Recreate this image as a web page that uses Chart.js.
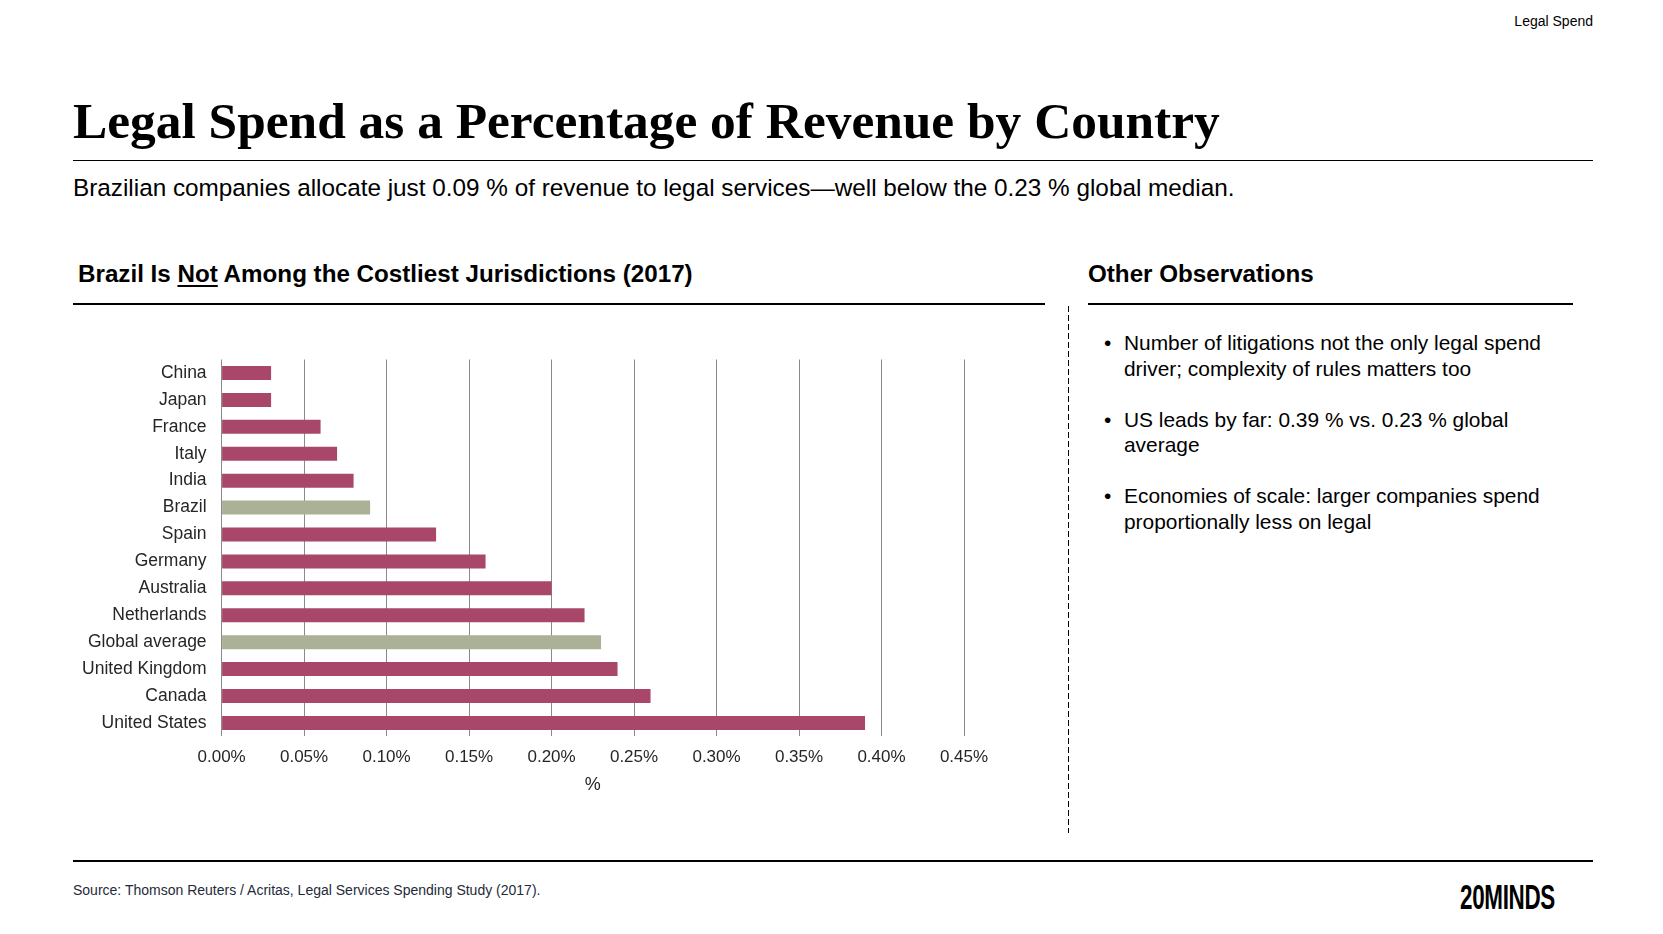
<!DOCTYPE html>
<html>
<head>
<meta charset="utf-8">
<script src="https://cdn.jsdelivr.net/npm/chart.js@4.4.1/dist/chart.umd.min.js"></script>
<style>
  html, body { margin: 0; padding: 0; background: #fff; }
  body { width: 1663px; height: 934px; position: relative; overflow: hidden;
         font-family: "Liberation Sans", Arial, sans-serif; color: #000; }
  .abs { position: absolute; white-space: nowrap; }
  .rule { position: absolute; background: #000; }
  #tag { right: 70px; top: 14px; font-size: 14px; line-height: 14px; color: #000; }
  #title { left: 73px; top: 95px; font-family: "Liberation Serif", "Times New Roman", serif;
           font-weight: bold; font-size: 51.4px; line-height: 51.4px; color: #000; }
  #sub { left: 73px; top: 176px; font-size: 24.3px; line-height: 24.3px; color: #000; }
  .h2 { font-weight: bold; font-size: 24.2px; line-height: 24.2px; top: 262px; color: #000; }
  .h2 u { text-decoration-thickness: 2px; text-underline-offset: 3px; }
  #dash { position: absolute; left: 1068px; top: 306px; width: 1px; height: 527px;
          background: repeating-linear-gradient(to bottom, #000 0, #000 6px, transparent 6px, transparent 9px); }
  #obs { position: absolute; left: 1104px; top: 330px; width: 500px; font-size: 20.9px; line-height: 25.5px; color: #000; }
  #obs .item { position: relative; padding-left: 20px; margin-bottom: 25.5px; white-space: nowrap; }
  #obs .item::before { content: "\2022"; position: absolute; left: 0; top: 0; }
  #src { left: 73px; top: 883px; font-size: 14px; line-height: 14px; color: #1F2B3A; }
  #logo { left: 1460px; top: 879px; font-weight: bold; font-size: 35px; line-height: 35px;
          transform-origin: 0 0; letter-spacing: -0.5px; color: #000; }
  #chartBox { position: absolute; left: 73px; top: 330px; width: 972px; height: 480px; }
</style>
</head>
<body>
<div id="tag" class="abs">Legal Spend</div>
<div id="title" class="abs">Legal Spend as a Percentage of Revenue by Country</div>
<div class="rule" style="left:73px; top:159.5px; width:1520px; height:1.5px;"></div>
<div id="sub" class="abs">Brazilian companies allocate just 0.09 % of revenue to legal services—well below the 0.23 % global median.</div>

<div class="abs h2" style="left:78px;">Brazil Is <u>Not</u> Among the Costliest Jurisdictions (2017)</div>
<div class="rule" style="left:73px; top:303px; width:972px; height:2px;"></div>
<div class="abs h2" style="left:1088px;">Other Observations</div>
<div class="rule" style="left:1088px; top:303px; width:485px; height:2px;"></div>
<div id="dash"></div>

<div id="obs">
  <div class="item">Number of litigations not the only legal spend<br>driver; complexity of rules matters too</div>
  <div class="item">US leads by far: 0.39 % vs. 0.23 % global<br>average</div>
  <div class="item">Economies of scale: larger companies spend<br>proportionally less on legal</div>
</div>

<div id="chartBox"><canvas id="c" width="972" height="480"></canvas></div>

<div class="rule" style="left:73px; top:860px; width:1520px; height:1.5px;"></div>
<div id="src" class="abs">Source: Thomson Reuters / Acritas, Legal Services Spending Study (2017).</div>
<div id="logo" class="abs">20MINDS</div>

<script>
// ---- Data ----
const categories = ["China", "Japan", "France", "Italy", "India", "Brazil", "Spain", "Germany",
                    "Australia", "Netherlands", "Global average", "United Kingdom", "Canada", "United States"];
const legalSpendPct = [0.03, 0.03, 0.06, 0.07, 0.08, 0.09, 0.13, 0.16, 0.20, 0.22, 0.23, 0.24, 0.26, 0.39];
const highlighted = ["Brazil", "Global average"];
const xTickValues = [0, 0.05, 0.10, 0.15, 0.20, 0.25, 0.30, 0.35, 0.40, 0.45];
const xAxisTitle = "%";

// ---- Styles ----
const BAR = "#A9476B";
const HILITE = "#AAB196";
const FONT = "'Liberation Sans', Arial, sans-serif";
const TEXT = "#262626";

// logo condensed to width
(function () {
  const logo = document.getElementById('logo');
  const w = logo.getBoundingClientRect().width;
  logo.style.transform = 'scaleX(' + (95 / w) + ')';
})();

new Chart(document.getElementById('c'), {
  type: 'bar',
  data: {
    labels: categories,
    datasets: [{
      data: legalSpendPct,
      backgroundColor: categories.map(c => highlighted.includes(c) ? HILITE : BAR),
      borderWidth: 0,
      barPercentage: 0.52,
      categoryPercentage: 1.0
    }]
  },
  options: {
    indexAxis: 'y',
    responsive: false,
    animation: false,
    devicePixelRatio: 1,
    layout: { padding: { top: 29.5, right: 81, bottom: 0, left: 0 } },
    plugins: { legend: { display: false }, tooltip: { enabled: false } },
    scales: {
      x: {
        type: 'linear',
        min: 0, max: 0.45,
        afterBuildTicks: (s) => { s.ticks = xTickValues.map(v => ({ value: v })); },
        afterFit: (s) => { s.height = 73.6; },
        grid: { display: true, drawTicks: false, color: '#8A8A8A', lineWidth: 1 },
        border: { display: false },
        ticks: {
          padding: 10.4,
          color: TEXT,
          font: { family: FONT, size: 17 },
          callback: (v) => Number(v).toFixed(2) + '%'
        },
        title: {
          display: true, text: xAxisTitle, color: TEXT,
          font: { family: FONT, size: 18 },
          padding: { top: 0, bottom: 14.2 }
        }
      },
      y: {
        afterFit: (s) => { s.width = 148.6; },
        grid: { display: false, drawTicks: false },
        border: { display: false },
        ticks: {
          padding: 15,
          color: TEXT,
          font: { family: FONT, size: 17.5 }
        }
      }
    }
  }
});
</script>
</body>
</html>
